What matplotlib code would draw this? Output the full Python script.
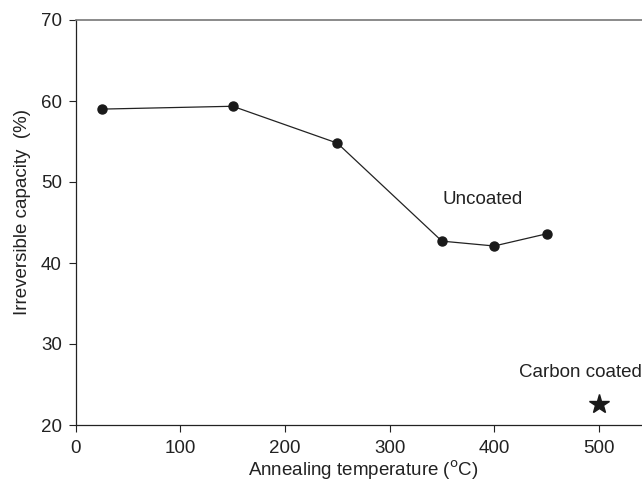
import matplotlib
matplotlib.use("Agg")
import matplotlib.pyplot as plt

plt.rcParams['font.family'] = ['Liberation Sans', 'DejaVu Sans']

temps = [25, 150, 250, 350, 400, 450]
irrev = [59.0, 59.35, 54.8, 42.7, 42.1, 43.6]
coated_temp = [500]
coated_irrev = [22.6]

FS = 13.5
fig = plt.figure(figsize=(6.42, 4.84), dpi=100)
x0 = 75.8 / 642
ax_w_px = 550 * 1.046
ax = fig.add_axes([x0, 1 - 425 / 484, ax_w_px / 642, (425 - 20) / 484])

ax.plot(temps, irrev, color='#222222', lw=0.9, marker='o', ms=6.5,
        mfc='#1a1a1a', mec='#1a1a1a')
ax.plot(coated_temp, coated_irrev, linestyle='none', marker='*', ms=15,
        color='#1a1a1a')

ax.set_xlim(0, 550)
ax.set_ylim(20, 70)
ax.set_xticks([0, 100, 200, 300, 400, 500])
ax.set_yticks([20, 30, 40, 50, 60, 70])
ax.tick_params(direction='out', length=5, width=0.8, labelsize=FS,
               colors='#222222')
ax.tick_params(axis='x', pad=6)
ax.tick_params(axis='y', pad=5)

for s in ['left', 'bottom']:
    ax.spines[s].set_color('#222222')
    ax.spines[s].set_linewidth(0.9)
ax.spines['top'].set_color('#777777')
ax.spines['top'].set_linewidth(1.2)
ax.spines['right'].set_visible(False)

ax.set_xlabel('Annealing temperature ($^{\\rm o}$C)', fontsize=FS,
              color='#222222')
ax.xaxis.set_label_coords((363 - 75.8) / ax_w_px, (425 - 459) / 405)
ax.set_ylabel('Irreversible capacity  (%)', fontsize=FS, color='#222222')
ax.yaxis.set_label_coords((31 - 75.8) / ax_w_px, (425 - 212) / 405)

ax.text(389, 47.8, 'Uncoated', fontsize=FS, ha='center', va='center',
        color='#222222')
ax.text(424, 26.5, 'Carbon coated', fontsize=FS, ha='left', va='center',
        color='#222222')

fig.savefig('out.png', dpi=100)
